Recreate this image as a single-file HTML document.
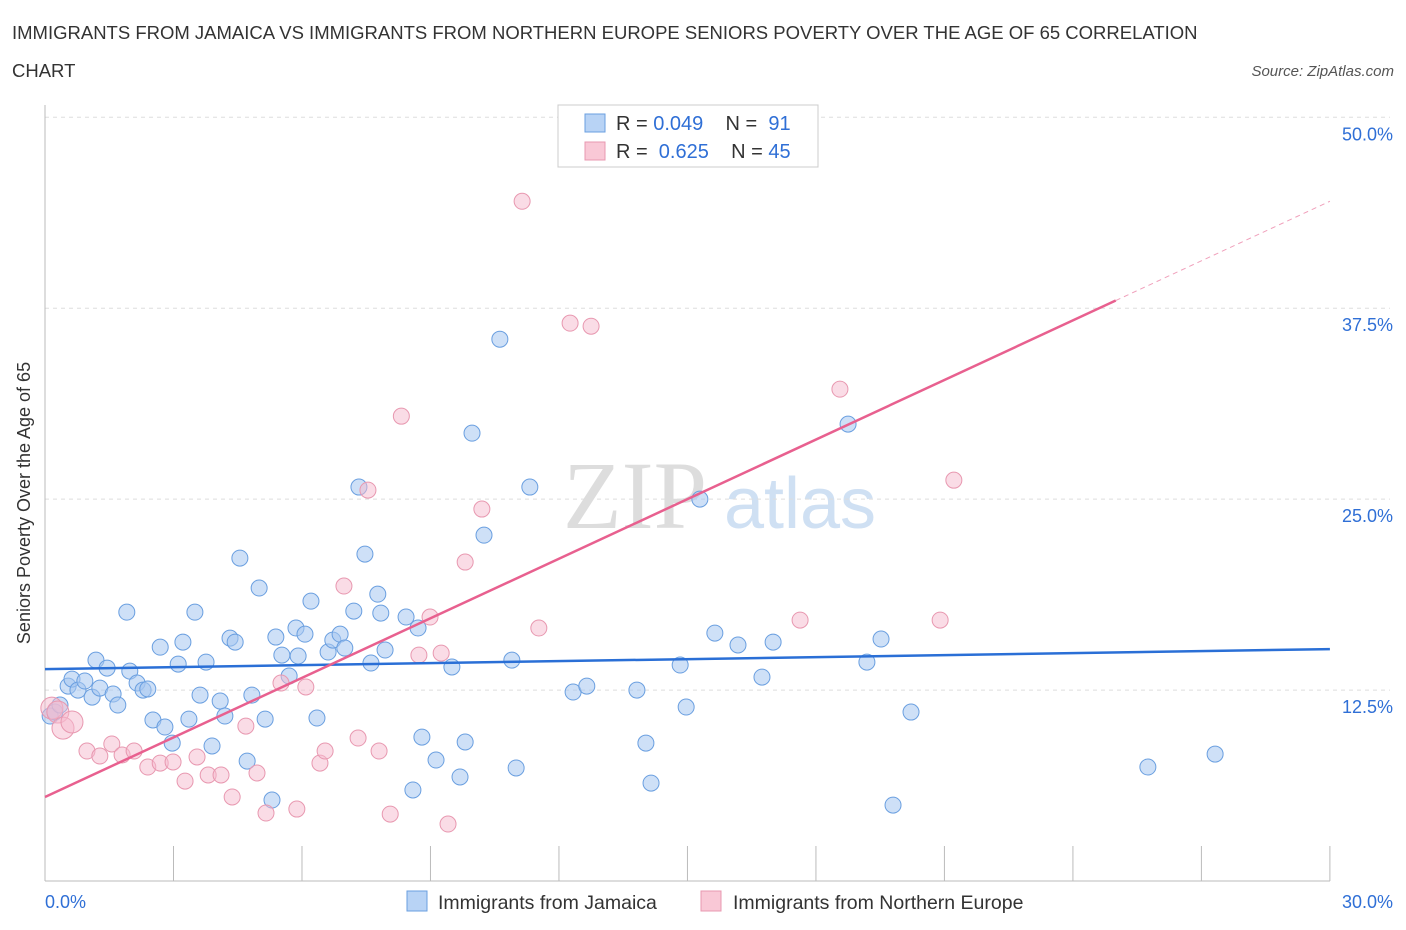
<!DOCTYPE html>
<html><head><meta charset="utf-8"><style>
body{margin:0;background:#fff;font-family:"Liberation Sans",sans-serif;}
svg{display:block}
</style></head><body>
<svg width="1406" height="930" id="chart">
<text x="12" y="39" font-size="18.5" fill="#333">IMMIGRANTS FROM JAMAICA VS IMMIGRANTS FROM NORTHERN EUROPE SENIORS POVERTY OVER THE AGE OF 65 CORRELATION</text>
<text x="12" y="77" font-size="18.5" fill="#333">CHART</text>
<text x="1394" y="76" font-size="15" fill="#555" font-style="italic" text-anchor="end">Source: ZipAtlas.com</text>
<text x="635" y="528" font-size="96" fill="#ddd" font-family="Liberation Serif,serif" text-anchor="middle">ZIP</text>
<text x="800" y="528" font-size="72" fill="#cfe0f3" text-anchor="middle">atlas</text>
<text x="22" y="495" font-size="18" fill="#333" text-anchor="middle" transform="rotate(-90 30 495)">Seniors Poverty Over the Age of 65</text>
<g id="grid"></g><g id="pts"></g><g id="lines"></g>
<g>
<rect x="558" y="105" width="260" height="62" fill="#fff" stroke="#ccc"/>
<rect x="585" y="114" width="20" height="18" fill="#b8d3f5" stroke="#6a9fe0"/>
<rect x="585" y="142" width="20" height="18" fill="#f9c8d6" stroke="#e898b0"/>
<text x="616" y="130" font-size="20" fill="#333">R = <tspan fill="#2f6fd6">0.049</tspan>&#160;&#160;&#160;&#160;N = <tspan fill="#2f6fd6">&#160;91</tspan></text>
<text x="616" y="158" font-size="20" fill="#333">R = &#160;<tspan fill="#2f6fd6">0.625</tspan>&#160;&#160;&#160;&#160;N = <tspan fill="#2f6fd6">45</tspan></text>
</g>
<g>
<rect x="407" y="891" width="20" height="20" fill="#b8d3f5" stroke="#6a9fe0"/>
<text x="438" y="909" font-size="19.5" fill="#333">Immigrants from Jamaica</text>
<rect x="701" y="891" width="20" height="20" fill="#f9c8d6" stroke="#e898b0"/>
<text x="733" y="909" font-size="19.5" fill="#333">Immigrants from Northern Europe</text>
</g>
</svg>
<script>
const blueX=[0.12,0.23,0.35,0.54,0.63,0.77,0.93,1.10,1.19,1.28,1.45,1.59,1.70,1.91,1.98,2.15,2.29,2.40,2.52,2.69,2.80,2.97,3.11,3.22,3.36,3.50,3.62,3.76,3.90,4.09,4.20,4.32,4.44,4.55,4.72,4.83,5.00,5.14,5.30,5.39,5.53,5.70,5.86,5.91,6.07,6.21,6.35,6.61,6.72,6.89,7.00,7.21,7.33,7.47,7.61,7.77,7.84,7.94,8.43,8.59,8.71,8.80,9.13,9.50,9.69,9.81,9.97,10.25,10.62,10.90,11.00,11.32,12.33,12.65,13.82,14.03,14.15,14.83,14.97,15.29,15.64,16.18,16.74,17.00,18.75,19.19,19.52,19.80,20.22,25.75,27.32];
const blueY=[10.80,11.06,11.52,12.76,13.22,12.50,13.09,12.04,14.46,12.63,13.94,12.24,11.52,17.60,13.74,12.96,12.50,12.57,10.54,15.31,10.08,9.03,14.20,15.64,10.60,17.60,12.17,14.33,8.84,11.78,10.80,15.90,15.64,21.14,7.85,12.17,19.18,10.60,5.30,15.97,14.79,13.42,16.56,14.73,16.16,18.32,10.67,14.99,15.77,16.16,15.25,17.67,25.79,21.40,14.27,18.78,17.54,15.12,17.28,5.96,16.56,9.42,7.92,14.01,6.81,9.10,29.32,22.64,35.47,14.46,7.40,25.79,12.37,12.76,12.50,9.03,6.41,14.14,11.39,25.00,16.23,15.45,13.35,15.64,29.91,14.33,15.84,4.97,11.06,7.46,8.31];
const pinkX=[0.16,0.30,0.42,0.63,0.98,1.28,1.56,1.80,2.08,2.40,2.69,2.99,3.27,3.55,3.81,4.11,4.37,4.69,4.95,5.16,5.51,5.88,6.09,6.42,6.54,6.98,7.31,7.54,7.80,8.06,8.32,8.73,8.99,9.25,9.41,9.81,10.20,11.14,11.53,12.26,12.75,17.63,18.56,20.90,21.22];
const pinkY=[11.32,11.06,10.01,10.41,8.51,8.18,8.97,8.25,8.51,7.46,7.72,7.79,6.54,8.12,6.94,6.94,5.50,10.14,7.07,4.45,12.96,4.71,12.70,7.72,8.51,19.31,9.36,25.59,8.51,4.38,30.43,14.79,17.28,14.92,3.73,20.88,24.35,44.50,16.56,36.52,36.32,17.08,32.20,17.08,26.24];
const yTicks=[12.5,25.0,37.5,50.0];
const blueLine=[13.87,15.18];
const pinkLine=[5.5,44.5];
const NS="http://www.w3.org/2000/svg";
const sx=v=>45+v*42.83, sy=v=>881-v*15.275;
function mk(tag,attrs,parent){const e=document.createElementNS(NS,tag);for(const k in attrs)e.setAttribute(k,attrs[k]);parent.appendChild(e);return e;}
const grid=document.getElementById('grid'),pts=document.getElementById('pts'),lines=document.getElementById('lines');
yTicks.forEach(t=>{
 const l=mk('line',{x1:45,x2:1390,y1:sy(t),y2:sy(t),stroke:'#ddd','stroke-dasharray':'4,4'},grid);
 
 
 const tx=mk('text',{x:1393,y:sy(t)+23,'font-size':18,fill:'#2f6fd6','text-anchor':'end'},grid);
 tx.textContent=t.toFixed(1)+'%';
 
 
});
mk('line',{x1:45,x2:45,y1:105,y2:881,stroke:'#bbb'},grid);
mk('line',{x1:45,x2:1330,y1:881,y2:881,stroke:'#bbb'},grid);
for(let i=0;i<=10;i++){const t=mk('line',{x1:sx(i*3),x2:sx(i*3),y1:846,y2:881,stroke:'#bbb'},grid);
 
 }
[[0,'0.0%','start',45],[30,'30.0%','end',1393]].forEach(a=>{const t=mk('text',{x:a[3],y:908,'font-size':18,fill:'#2f6fd6','text-anchor':a[2]},grid);t.textContent=a[1];
 
 });
blueX.forEach((x,i)=>{const c=mk('circle',{cx:sx(x),cy:sy(blueY[i]),r:8,fill:'rgba(165,198,240,0.55)',stroke:'#6a9fe0','stroke-width':1},pts);
 
 });
pinkX.forEach((x,i)=>{const c=mk('circle',{cx:sx(x),cy:sy(pinkY[i]),r:i<4?11:8,fill:'rgba(246,185,205,0.5)',stroke:'#e898b0','stroke-width':1},pts);
 
 });
const bl=mk('line',{x1:sx(0),y1:sy(blueLine[0]),x2:sx(30),y2:sy(blueLine[1]),stroke:'#2a6fd6','stroke-width':2.5},lines);


const pm=v=>pinkLine[0]+(pinkLine[1]-pinkLine[0])*v/30;
const pl=mk('line',{x1:sx(0),y1:sy(pm(0)),x2:sx(25),y2:sy(pm(25)),stroke:'#e8608f','stroke-width':2.5},lines);


const pd=mk('line',{x1:sx(25),y1:sy(pm(25)),x2:sx(30),y2:sy(pm(30)),stroke:'#f0a0bb','stroke-width':1,'stroke-dasharray':'5,4'},lines);


</script>
</body></html>
